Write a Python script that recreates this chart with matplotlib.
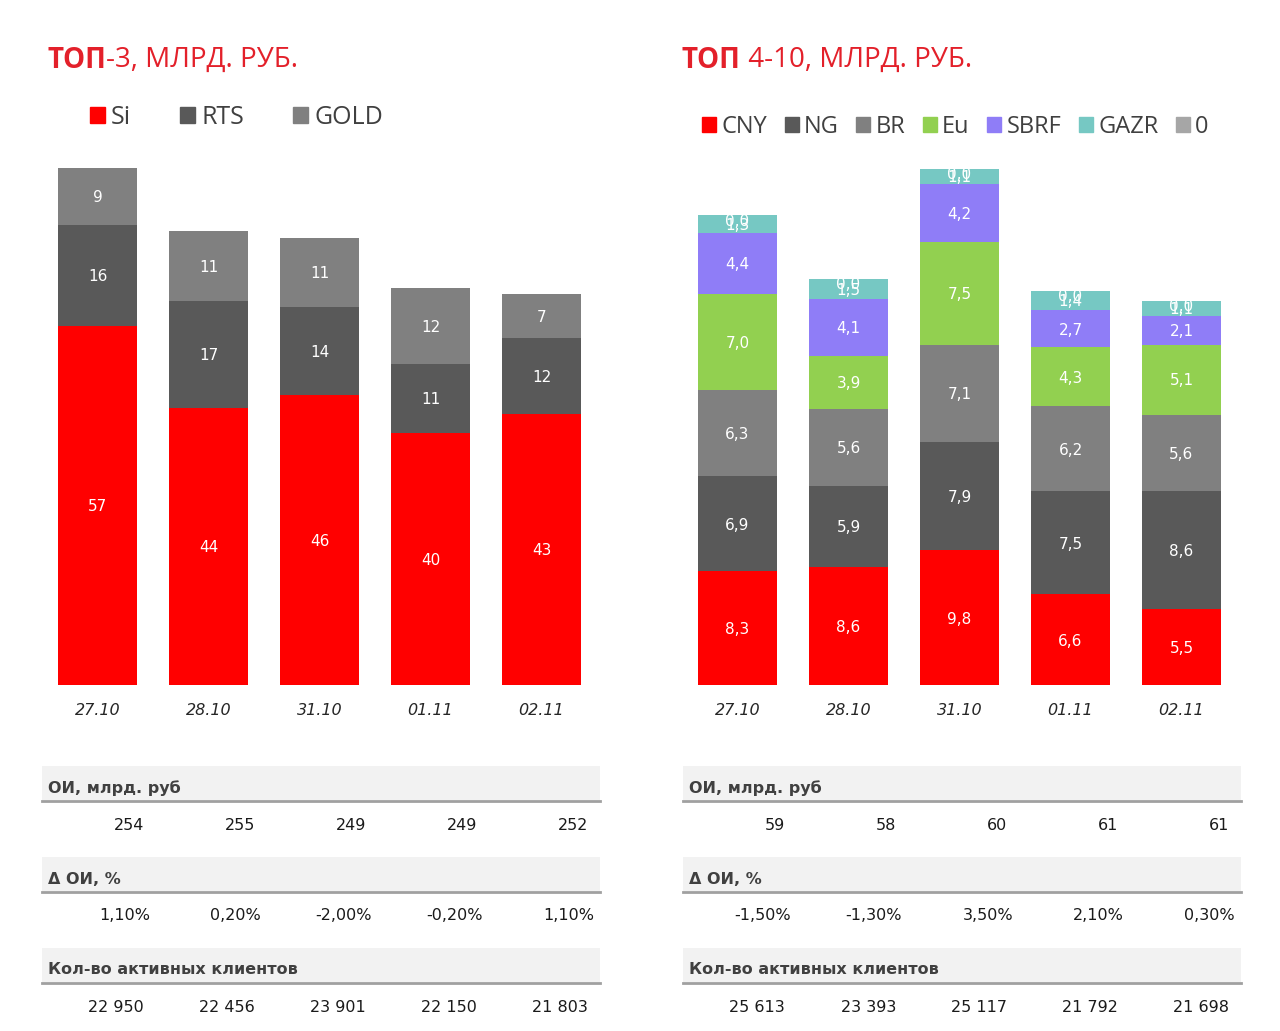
import matplotlib
matplotlib.use("Agg")
import matplotlib.pyplot as plt
from matplotlib.patches import Rectangle, Patch

# ---------------- data ----------------
dates = ['27.10', '28.10', '31.10', '01.11', '02.11']

top3_names = ['Si', 'RTS', 'GOLD']
si = [57, 44, 46, 40, 43]
rts = [16, 17, 14, 11, 12]
gold = [9, 11, 11, 12, 7]

top10_names = ['CNY', 'NG', 'BR', 'Eu', 'SBRF', 'GAZR', '0']
cny = [8.3, 8.6, 9.8, 6.6, 5.5]
ng = [6.9, 5.9, 7.9, 7.5, 8.6]
br = [6.3, 5.6, 7.1, 6.2, 5.6]
eu = [7.0, 3.9, 7.5, 4.3, 5.1]
sbrf = [4.4, 4.1, 4.2, 2.7, 2.1]
gazr = [1.3, 1.5, 1.1, 1.4, 1.1]
zero = [0.0, 0.0, 0.0, 0.0, 0.0]

oi_left = [254, 255, 249, 249, 252]
doi_left = [1.10, 0.20, -2.00, -0.20, 1.10]
clients_left = [22950, 22456, 23901, 22150, 21803]

oi_right = [59, 58, 60, 61, 61]
doi_right = [-1.50, -1.30, 3.50, 2.10, 0.30]
clients_right = [25613, 23393, 25117, 21792, 21698]

row_titles = ['ОИ, млрд. руб', 'Δ ОИ, %', 'Кол-во активных клиентов']

# ---------------- style ----------------
RED = '#FF0000'
DARK = '#595959'
MID = '#808080'
GREEN = '#92D050'
PURPLE = '#8F7DF7'
TEAL = '#76C8C3'
LIGHT = '#A6A6A6'
TITLE_RED = '#E3202A'
TXT = '#404040'

W, H = 1280, 1031
fig = plt.figure(figsize=(W / 100, H / 100), dpi=100)
fig.patch.set_facecolor('white')

def px_axes(x0, y0, x1, y1):
    return fig.add_axes([x0 / W, 1 - y1 / H, (x1 - x0) / W, (y1 - y0) / H])

# overlay axes in pixel coordinates for titles and tables
ov = fig.add_axes([0, 0, 1, 1], zorder=0)
ov.set_xlim(0, W)
ov.set_ylim(H, 0)
ov.axis('off')

ax1 = px_axes(42, 160, 597, 685)
ax2 = px_axes(682, 160, 1237, 685)
for a in (ax1, ax2):
    a.set_zorder(1)
    a.patch.set_alpha(0)

def stacked(ax, series, colors, ymax, fmt):
    x = list(range(len(dates)))
    bottoms = [0.0] * len(dates)
    for s, c in zip(series, colors):
        ax.bar(x, s, bottom=bottoms, width=0.71, color=c, linewidth=0)
        for xi, v, b in zip(x, s, bottoms):
            ax.annotate(fmt(v), xy=(xi, b + v / 2), xytext=(0, -1 if v > 0 else -4),
                        textcoords='offset points', ha='center', va='center',
                        color='white', fontsize=11, family='DejaVu Sans')
        bottoms = [b + v for b, v in zip(bottoms, s)]
    ax.set_xlim(-0.5, 4.5)
    ax.set_ylim(0, ymax)
    ax.set_yticks([])
    ax.set_xticks(x)
    ax.set_xticklabels(dates, fontsize=11.5, style='italic', color='#262626', family='DejaVu Sans')
    ax.tick_params(axis='x', length=0, pad=13)
    for sp in ax.spines.values():
        sp.set_visible(False)

c3 = [RED, DARK, MID]
c10 = [RED, DARK, MID, GREEN, PURPLE, TEAL, LIGHT]
stacked(ax1, [si, rts, gold], c3, 83.3, lambda v: f'{v:.0f}')
stacked(ax2, [cny, ng, br, eu, sbrf, gazr, zero], c10, 38.24,
        lambda v: f'{v:.1f}'.replace('.', ','))

# legends
h3 = [Patch(color=c) for c in c3]
fig.legend(h3, top3_names, loc='center left', bbox_to_anchor=(90 / W, 1 - 117 / H),
           ncol=3, frameon=False, borderpad=0, borderaxespad=0,
           handlelength=0.6, handleheight=0.6, handletextpad=0.25, columnspacing=1.95,
           prop={'family': 'Open Sans', 'size': 18}, labelcolor=TXT)
h10 = [Patch(color=c) for c in c10]
fig.legend(h10, top10_names, loc='center left', bbox_to_anchor=(702 / W, 1 - 127 / H),
           ncol=7, frameon=False, borderpad=0, borderaxespad=0,
           handlelength=0.6, handleheight=0.6, handletextpad=0.22, columnspacing=0.74,
           prop={'family': 'Open Sans', 'size': 17}, labelcolor=TXT)

# titles
fig.canvas.draw()
renderer = fig.canvas.get_renderer()
def title(x, y, bold, rest):
    t = ov.text(x, y, bold, fontsize=20, fontweight='bold', color=TITLE_RED,
                family='Open Sans', va='center', ha='left')
    bb = t.get_window_extent(renderer=renderer)
    ov.text(bb.x1, y, rest, fontsize=20, color=TITLE_RED, family='Open Sans',
            va='center', ha='left')
title(47, 60, 'ТОП', '-3, МЛРД. РУБ.')
title(682, 60, 'ТОП', ' 4-10, МЛРД. РУБ.')

# tables
def fmt_int(v):
    return f'{v:,}'.replace(',', ' ')
def fmt_pct(v):
    return f'{v:.2f}'.replace('.', ',') + '%'

def table(x0, rows):
    band_tops = [766, 857, 948]
    for (title_txt, vals, f, shift), top in zip(rows, band_tops):
        ov.add_patch(Rectangle((x0, top), 558, 34, color='#F2F2F2', lw=0, zorder=0))
        ov.plot([x0, x0 + 558], [top + 35, top + 35], color='#A0A0A0', lw=2, zorder=1)
        ov.text(x0 + 6, top + 22, title_txt, fontsize=11.5, fontweight='bold',
                color='#404040', family='DejaVu Sans', va='center', ha='left')
        for i, v in enumerate(vals):
            ov.text(x0 + 102 + shift + 111 * i, top + 59, f(v), fontsize=11.5,
                    color='#1A1A1A', family='DejaVu Sans', va='center', ha='right')

table(42, [(row_titles[0], oi_left, fmt_int, 0),
           (row_titles[1], doi_left, fmt_pct, 6),
           (row_titles[2], clients_left, fmt_int, 0)])
table(683, [(row_titles[0], oi_right, fmt_int, 0),
            (row_titles[1], doi_right, fmt_pct, 6),
            (row_titles[2], clients_right, fmt_int, 0)])

fig.savefig('out.png', dpi=100, facecolor='white')
